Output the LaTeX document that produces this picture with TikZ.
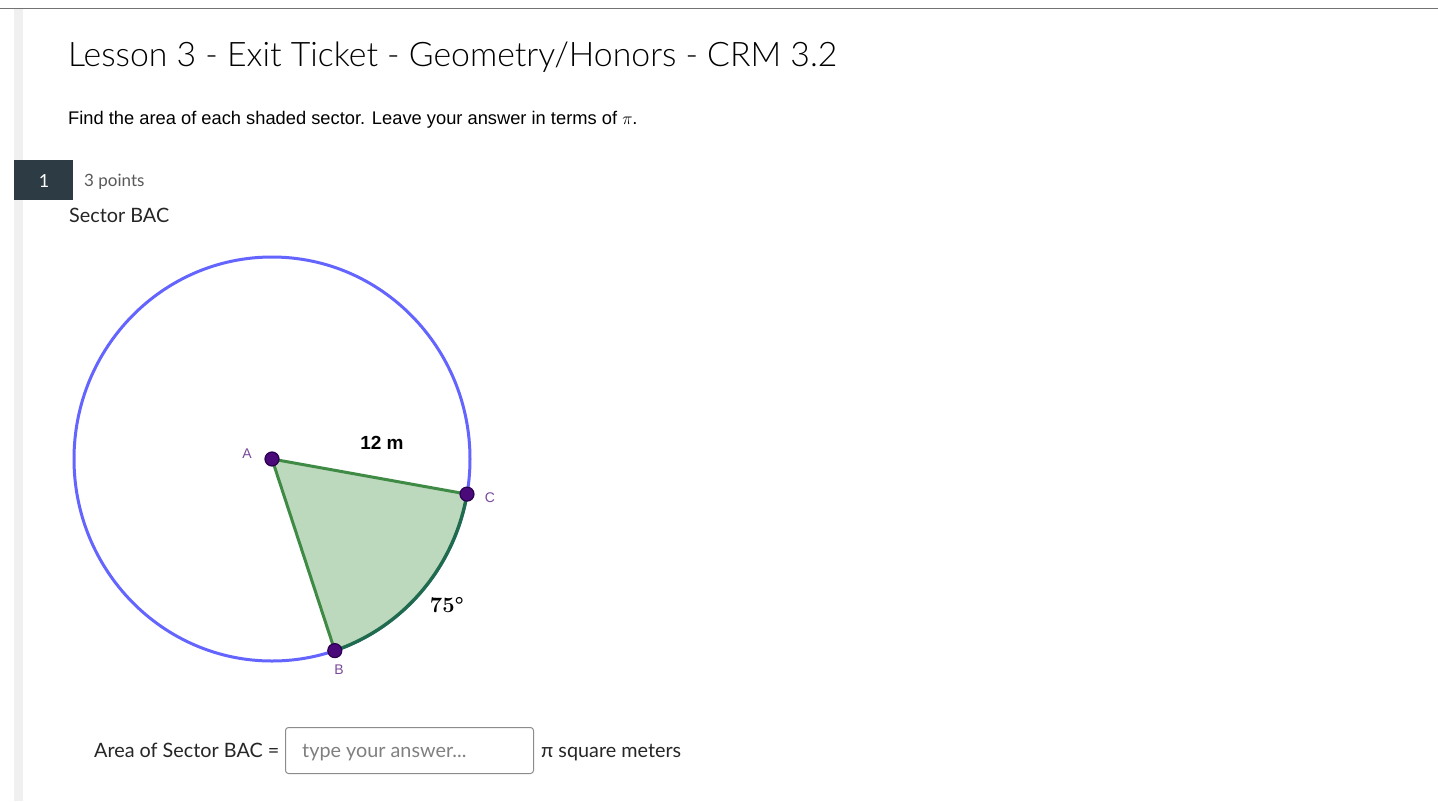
\documentclass[tikz,border=0pt]{standalone}
\usepackage{fontspec}
\setmainfont{Lato}
\newfontfamily\latolight{Lato Light}
\newfontfamily\arialf{Liberation Sans}
\newfontfamily\lmr{Latin Modern Roman}
\begin{document}
\begin{tikzpicture}[x=1pt,y=-1pt,
  txt/.style={anchor=base west,inner sep=0pt,text=black!85},
  ptlabel/.style={inner sep=0pt,text=labpurple,font=\arialf\fontsize{14}{14}\selectfont},
  pt/.style={circle,fill=ptfill,draw=ptdraw,line width=1.2pt,minimum size=14pt,inner sep=0pt}]
\definecolor{labpurple}{HTML}{7A4A9A}
\definecolor{ptfill}{HTML}{4B0A7A}
\definecolor{ptdraw}{HTML}{2A0050}
\definecolor{circblue}{HTML}{6464FF}
\definecolor{secfill}{HTML}{BDD9BD}
\definecolor{secedge}{HTML}{3F8A45}
\definecolor{arcgreen}{HTML}{1F6B4E}
\definecolor{badge}{HTML}{2D3B45}
\useasboundingbox (0,0) rectangle (1438,801);
\fill[white] (0,0) rectangle (1438,801);
% top rule and left shadow strip
\draw[black!55,line width=1pt] (0,8) -- (1438,8);
\fill[black!6] (14,9) rectangle (23,801);
% title and instructions
\node[txt,font=\latolight\fontsize{33.8}{33.8}\selectfont,text=black] (title) at (68,66) {Lesson 3 - Exit Ticket - Geometry/Honors - CRM 3.2};
\node[txt,font=\arialf\fontsize{18.3}{18.3}\selectfont,text=black] (instr) at (68,124) {Find the area of each shaded sector. Leave your answer in terms of $\pi$.};
% question badge
\node[fill=badge,minimum width=59pt,minimum height=40pt,inner sep=0pt,anchor=north west] (badge) at (14,160) {};
\node[text=white,font=\fontsize{18}{18}\selectfont] (num) at (44,181) {1};
\node[txt,font=\fontsize{17}{17}\selectfont,text=black!65] (pts) at (84,186) {3 points};
\node[txt,font=\fontsize{19.8}{19.8}\selectfont] (sec) at (69,222) {Sector BAC};
% geometry
\coordinate (A) at (272,459);
\coordinate (C) at (467,494.1);
\coordinate (B) at (334.8,650.6);
\draw[circblue,line width=3pt] (A) circle[x radius=198,y radius=202];
\fill[secfill] (A) -- (C) arc[start angle=10,end angle=71.5,x radius=198,y radius=202] -- cycle;
\draw[secedge,line width=3pt,line join=round] (B) -- (A) -- (C);
\draw[arcgreen,line width=3.4pt] (C) arc[start angle=10,end angle=71.5,x radius=198,y radius=202];
\node[pt] (pA) at (A) {};
\node[pt] (pC) at (C) {};
\node[pt] (pB) at (B) {};
\node[ptlabel] (lA) at (247,454) {A};
\node[ptlabel] (lC) at (490,498) {C};
\node[ptlabel] (lB) at (339,670) {B};
\node[inner sep=0pt,font=\arialf\bfseries\fontsize{19}{19}\selectfont] (len) at (382,443) {12 m};
\node[inner sep=0pt,font=\lmr\bfseries\fontsize{22}{22}\selectfont] (ang) at (447,605) {75°};
% answer line
\node[txt,font=\fontsize{19.8}{19.8}\selectfont] (area) at (94,757) {Area of Sector BAC =};
\node[draw=black!45,line width=1pt,rounded corners=3pt,minimum width=248pt,minimum height=46pt,anchor=north west,inner sep=0pt] (box) at (285,727) {};
\node[txt,font=\fontsize{19.8}{19.8}\selectfont,text=black!50] (ph) at (302,757) {type your answer...};
\node[txt,font=\fontsize{19.8}{19.8}\selectfont] (unit) at (541,757) {\symbol{"03C0} square meters};
\end{tikzpicture}
\end{document}
